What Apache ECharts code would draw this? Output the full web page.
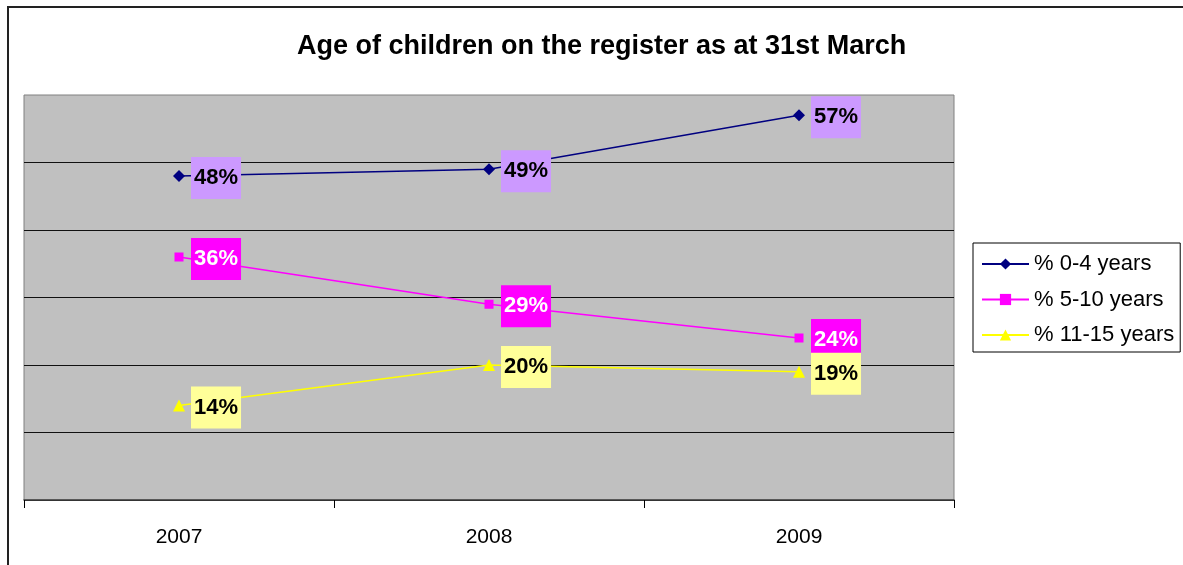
<!DOCTYPE html>
<html>
<head>
<meta charset="utf-8">
<script src="https://cdn.jsdelivr.net/npm/echarts@6/dist/echarts.min.js"></script>
<style>html,body{margin:0;padding:0;background:#fff}#c{width:1183px;height:565px}</style>
</head>
<body>
<div id="c"></div>
<script>
const titleText = 'Age of children on the register as at 31st March';
const categories = ['2007', '2008', '2009'];
const seriesNames = ['% 0-4 years', '% 5-10 years', '% 11-15 years'];
const age0to4 = [48, 49, 57];
const age5to10 = [36, 29, 24];
const age11to15 = [14, 20, 19];

const chart = echarts.init(document.getElementById('c'), null, {renderer: 'canvas'});
const FONT = 'Liberation Sans, Arial, sans-serif';

function lbl(bg, color, dist) {
  return {
    show: true, position: 'right', distance: dist, offset: [0, 2],
    formatter: '{c}%', fontFamily: FONT, fontWeight: 'bold', fontSize: 22,
    color: color, backgroundColor: bg, padding: [9, 3, 9, 3], lineHeight: 24
  };
}

chart.setOption({
  animation: false,
  backgroundColor: '#fff',
  title: {
    text: titleText, left: 292, top: 28,
    textStyle: {fontFamily: FONT, fontWeight: 'bold', fontSize: 27, color: '#000'}
  },
  graphic: [{
    type: 'rect', shape: {x: 8, y: 7, width: 1300, height: 700},
    style: {fill: 'none', stroke: '#222', lineWidth: 2}, silent: true, z: 100
  }],
  legend: {
    orient: 'vertical', left: 973, top: 243,
    padding: [9, 6, 5, 8], itemGap: 11.5, itemWidth: 47, itemHeight: 14,
    backgroundColor: '#fff', borderColor: '#000', borderWidth: 1,
    textStyle: {fontFamily: FONT, fontSize: 22, color: '#000', lineHeight: 24},
    data: seriesNames
  },
  grid: {
    left: 24, top: 95, right: 229, bottom: 65, show: true,
    backgroundColor: '#C0C0C0', borderColor: '#808080', borderWidth: 1
  },
  xAxis: {
    type: 'category', data: categories, boundaryGap: true,
    axisLine: {lineStyle: {color: '#404040', width: 1.5}},
    axisTick: {show: true, length: 8, lineStyle: {color: '#000'}},
    axisLabel: {fontFamily: FONT, fontSize: 21, color: '#000', margin: 27}
  },
  yAxis: {
    type: 'value', min: 0, max: 60, interval: 10,
    axisLine: {show: false}, axisTick: {show: false}, axisLabel: {show: false},
    splitLine: {show: true, showMaxLine: false, lineStyle: {color: '#111', width: 1}}
  },
  series: [
    {
      name: seriesNames[0], type: 'line', data: age0to4,
      symbol: 'diamond', symbolSize: 12,
      lineStyle: {color: '#000080', width: 1.5}, itemStyle: {color: '#000080'},
      label: lbl('#CC99FF', '#000', 6)
    },
    {
      name: seriesNames[1], type: 'line', data: age5to10,
      symbol: 'rect', symbolSize: 9,
      lineStyle: {color: '#FF00FF', width: 1.5}, itemStyle: {color: '#FF00FF'},
      label: lbl('#FF00FF', '#fff', 7.5)
    },
    {
      name: seriesNames[2], type: 'line', data: age11to15,
      symbol: 'triangle', symbolSize: 12,
      lineStyle: {color: '#FFFF00', width: 1.5}, itemStyle: {color: '#FFFF00'},
      label: lbl('#FFFF99', '#000', 6)
    }
  ]
});
</script>
</body>
</html>
